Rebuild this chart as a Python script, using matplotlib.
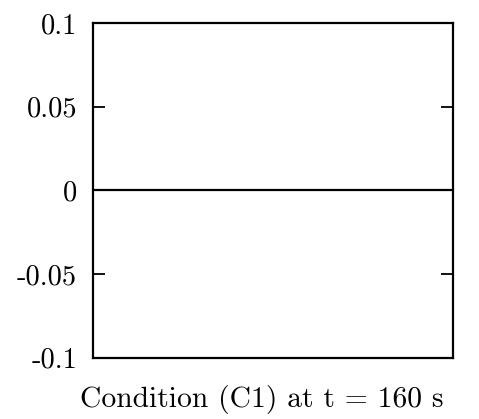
import matplotlib
matplotlib.use("Agg")
import matplotlib.pyplot as plt

# ===== DATA =====
x_vals = [0.0, 0.25, 0.5, 0.75, 1.0]
y_vals = [0.0, 0.0, 0.0, 0.0, 0.0]
y_ticks = [0.1, 0.05, 0.0, -0.05, -0.1]
y_tick_labels = ["0.1", "0.05", "0", "-0.05", "-0.1"]
caption = "Condition (C1) at t = 160 s"

plt.rcParams["font.family"] = ["cmr10", "DejaVu Serif"]
plt.rcParams["mathtext.fontset"] = "cm"

W, H = 479, 419
fig = plt.figure(figsize=(W / 100, H / 100), dpi=100)
left, right, top, bottom = 92.5, 453, 23, 357.5
ax = fig.add_axes([left / W, 1 - bottom / H, (right - left) / W, (bottom - top) / H])

ax.plot(x_vals, y_vals, color="black", lw=1.6)

ax.set_xlim(0, 1)
ax.set_ylim(-0.1, 0.1)
ax.set_xticks([])
ax.set_yticks(y_ticks)
ax.set_yticklabels(y_tick_labels, fontsize=20.5)
ax.tick_params(axis="y", direction="in", length=8.6, width=1.3, left=True, right=True, pad=11)

for s in ax.spines.values():
    s.set_linewidth(1.6)

fig.text(261.5 / W, 1 - 406.5 / H, caption, ha="center", va="baseline", fontsize=21.3)

fig.savefig("out.png", dpi=100)
